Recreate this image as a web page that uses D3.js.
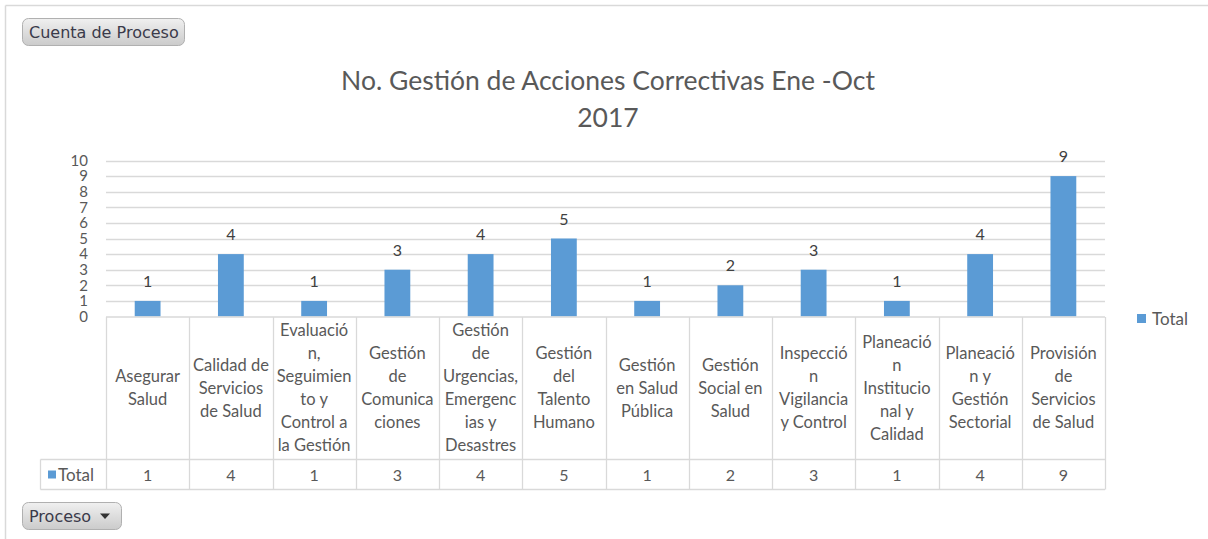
<!DOCTYPE html>
<html>
<head>
<meta charset="utf-8">
<script src="https://cdn.jsdelivr.net/npm/d3@7"></script>
<style>
  html, body { margin: 0; padding: 0; background: #fff; }
  svg { display: block; }
</style>
</head>
<body>
<svg id="chart" width="1208" height="539"></svg>
<script>
// ---- data ----
const categories = [
  "Asegurar Salud",
  "Calidad de Servicios de Salud",
  "Evaluación, Seguimiento y Control a la Gestión",
  "Gestión de Comunicaciones",
  "Gestión de Urgencias, Emergencias y Desastres",
  "Gestión del Talento Humano",
  "Gestión en Salud Pública",
  "Gestión Social en Salud",
  "Inspección Vigilancia y Control",
  "Planeación Institucional y Calidad",
  "Planeación y Gestión Sectorial",
  "Provisión de Servicios de Salud"
];
const tickLabelLines = [
  ["Asegurar", "Salud"],
  ["Calidad de", "Servicios", "de Salud"],
  ["Evaluació", "n,", "Seguimien", "to y", "Control a", "la Gestión"],
  ["Gestión", "de", "Comunica", "ciones"],
  ["Gestión", "de", "Urgencias,", "Emergenc", "ias y", "Desastres"],
  ["Gestión", "del", "Talento", "Humano"],
  ["Gestión", "en Salud", "Pública"],
  ["Gestión", "Social en", "Salud"],
  ["Inspecció", "n", "Vigilancia", "y Control"],
  ["Planeació", "n", "Institucio", "nal y", "Calidad"],
  ["Planeació", "n y", "Gestión", "Sectorial"],
  ["Provisión", "de", "Servicios", "de Salud"]
];
const totals = [1, 4, 1, 3, 4, 5, 1, 2, 3, 1, 4, 9];
const seriesName = "Total";
const yTicks = [0, 1, 2, 3, 4, 5, 6, 7, 8, 9, 10];
const titleLines = ["No. Gestión de Acciones Correctivas Ene -Oct", "2017"];

// ---- drawing ----
const svg = d3.select("#chart");
const FONT = "Lato, 'Open Sans', sans-serif";
const TXT = "#595959";
const GRID = "#d9d9d9";
const BAR = "#5b9bd5";

const plotLeft = 106, plotRight = 1105;
const plotTop = 160.5, plotBottom = 316.5;
const labelRowBottom = 459.5, valueRowBottom = 489.5;
const legendCellLeft = 40.5;

const x = d3.scaleBand().domain(categories).range([plotLeft, plotRight]).padding(0);
const y = d3.scaleLinear().domain([0, 10]).range([plotBottom, plotTop]);

// outer frame
svg.append("line").attr("x1", 5.5).attr("x2", 1208).attr("y1", 5.5).attr("y2", 5.5)
  .attr("stroke", "#d9d9d9").attr("stroke-width", 1.5);
svg.append("line").attr("x1", 5.5).attr("x2", 5.5).attr("y1", 5.5).attr("y2", 539)
  .attr("stroke", "#d9d9d9").attr("stroke-width", 1.5);

// buttons
const defs = svg.append("defs");
const grad = defs.append("linearGradient").attr("id", "btnGrad").attr("x1", 0).attr("x2", 0).attr("y1", 0).attr("y2", 1);
grad.append("stop").attr("offset", "0%").attr("stop-color", "#f0f0f0");
grad.append("stop").attr("offset", "100%").attr("stop-color", "#cbcbcb");

function button(bx, by, w, h, label, arrow) {
  const g = svg.append("g");
  g.append("rect").attr("x", bx + 0.5).attr("y", by + 0.5).attr("width", w).attr("height", h)
    .attr("rx", 6).attr("fill", "url(#btnGrad)").attr("stroke", "#b0b0b0");
  g.append("text").attr("x", bx + 7).attr("y", by + h / 2 + 6)
    .attr("font-family", "'DejaVu Sans', sans-serif").attr("font-size", 16)
    .attr("fill", "#3a3a4a").text(label);
  if (arrow) {
    const ax = bx + w - 16, ay = by + h / 2 - 2;
    g.append("path").attr("d", `M${ax - 5},${ay} L${ax + 5},${ay} L${ax},${ay + 5.5} Z`).attr("fill", "#333");
  }
}
button(22, 18, 162, 27, "Cuenta de Proceso", false);
button(22, 502, 99, 27, "Proceso", true);

// title
svg.append("text").attr("text-anchor", "middle")
  .attr("font-family", FONT).attr("font-size", 26.5).attr("fill", TXT)
  .selectAll("tspan").data(titleLines).join("tspan")
  .attr("x", 608).attr("y", (d, i) => 90 + i * 37).text(d => d);

// gridlines
svg.append("g").selectAll("line").data(yTicks.filter(t => t > 0)).join("line")
  .attr("x1", plotLeft).attr("x2", plotRight)
  .attr("y1", d => Math.round(y(d)) + 0.5).attr("y2", d => Math.round(y(d)) + 0.5)
  .attr("stroke", GRID).attr("stroke-width", 1.3);

// y axis labels
const yAxis = d3.axisLeft(y).tickValues(yTicks).tickSize(0).tickPadding(0);
const yG = svg.append("g").attr("transform", `translate(88,0)`).call(yAxis);
yG.select(".domain").remove();
yG.selectAll("text").attr("font-family", FONT).attr("font-size", 15).attr("fill", TXT);

// bars
const barW = x.bandwidth() * 0.31;
svg.append("g").selectAll("rect").data(totals).join("rect")
  .attr("x", (d, i) => x(categories[i]) + (x.bandwidth() - barW) / 2)
  .attr("width", barW)
  .attr("y", d => y(d))
  .attr("height", d => y(0) - y(d))
  .attr("fill", BAR);

// data labels
svg.append("g").selectAll("text").data(totals).join("text")
  .attr("x", (d, i) => x(categories[i]) + x.bandwidth() / 2)
  .attr("y", d => y(d) - 14)
  .attr("text-anchor", "middle")
  .attr("font-family", FONT).attr("font-size", 16).attr("fill", "#404040")
  .text(d => d);

// table lines
const tbl = svg.append("g").attr("stroke", GRID).attr("stroke-width", 1.3);
tbl.append("line").attr("x1", plotLeft).attr("x2", plotRight).attr("y1", plotBottom + 0.5).attr("y2", plotBottom + 0.5);
tbl.append("line").attr("x1", legendCellLeft).attr("x2", plotRight).attr("y1", labelRowBottom).attr("y2", labelRowBottom);
tbl.append("line").attr("x1", legendCellLeft).attr("x2", plotRight).attr("y1", valueRowBottom).attr("y2", valueRowBottom);
tbl.append("line").attr("x1", legendCellLeft).attr("x2", legendCellLeft).attr("y1", labelRowBottom).attr("y2", valueRowBottom);
const bounds = categories.map(c => x(c)).concat([plotRight]);
tbl.selectAll(".vb").data(bounds).join("line")
  .attr("x1", d => Math.round(d) + 0.5).attr("x2", d => Math.round(d) + 0.5)
  .attr("y1", plotBottom + 0.5).attr("y2", valueRowBottom);

// category labels
const lineH = 23;
const labelMid = (plotBottom + labelRowBottom) / 2;
const catG = svg.append("g").attr("font-family", FONT).attr("font-size", 16.5).attr("fill", TXT).attr("text-anchor", "middle");
tickLabelLines.forEach((lines, i) => {
  const cx = x(categories[i]) + x.bandwidth() / 2;
  const startY = labelMid - (lines.length - 1) * lineH / 2 + 5.5;
  const t = catG.append("text");
  t.selectAll("tspan").data(lines).join("tspan")
    .attr("x", cx).attr("y", (d, j) => startY + j * lineH).text(d => d);
});

// value row
const valMid = (labelRowBottom + valueRowBottom) / 2;
svg.append("g").selectAll("text").data(totals).join("text")
  .attr("x", (d, i) => x(categories[i]) + x.bandwidth() / 2)
  .attr("y", valMid + 6)
  .attr("text-anchor", "middle")
  .attr("font-family", FONT).attr("font-size", 16).attr("fill", TXT)
  .text(d => d);

// legend key in table
svg.append("rect").attr("x", 48).attr("y", valMid - 4).attr("width", 8).attr("height", 8).attr("fill", BAR);
svg.append("text").attr("x", 58).attr("y", valMid + 6)
  .attr("font-family", FONT).attr("font-size", 17).attr("fill", TXT).text(seriesName);

// legend right
svg.append("rect").attr("x", 1137).attr("y", 314).attr("width", 9).attr("height", 9).attr("fill", BAR);
svg.append("text").attr("x", 1152).attr("y", 324.5)
  .attr("font-family", FONT).attr("font-size", 17).attr("fill", TXT).text(seriesName);
</script>
</body>
</html>
